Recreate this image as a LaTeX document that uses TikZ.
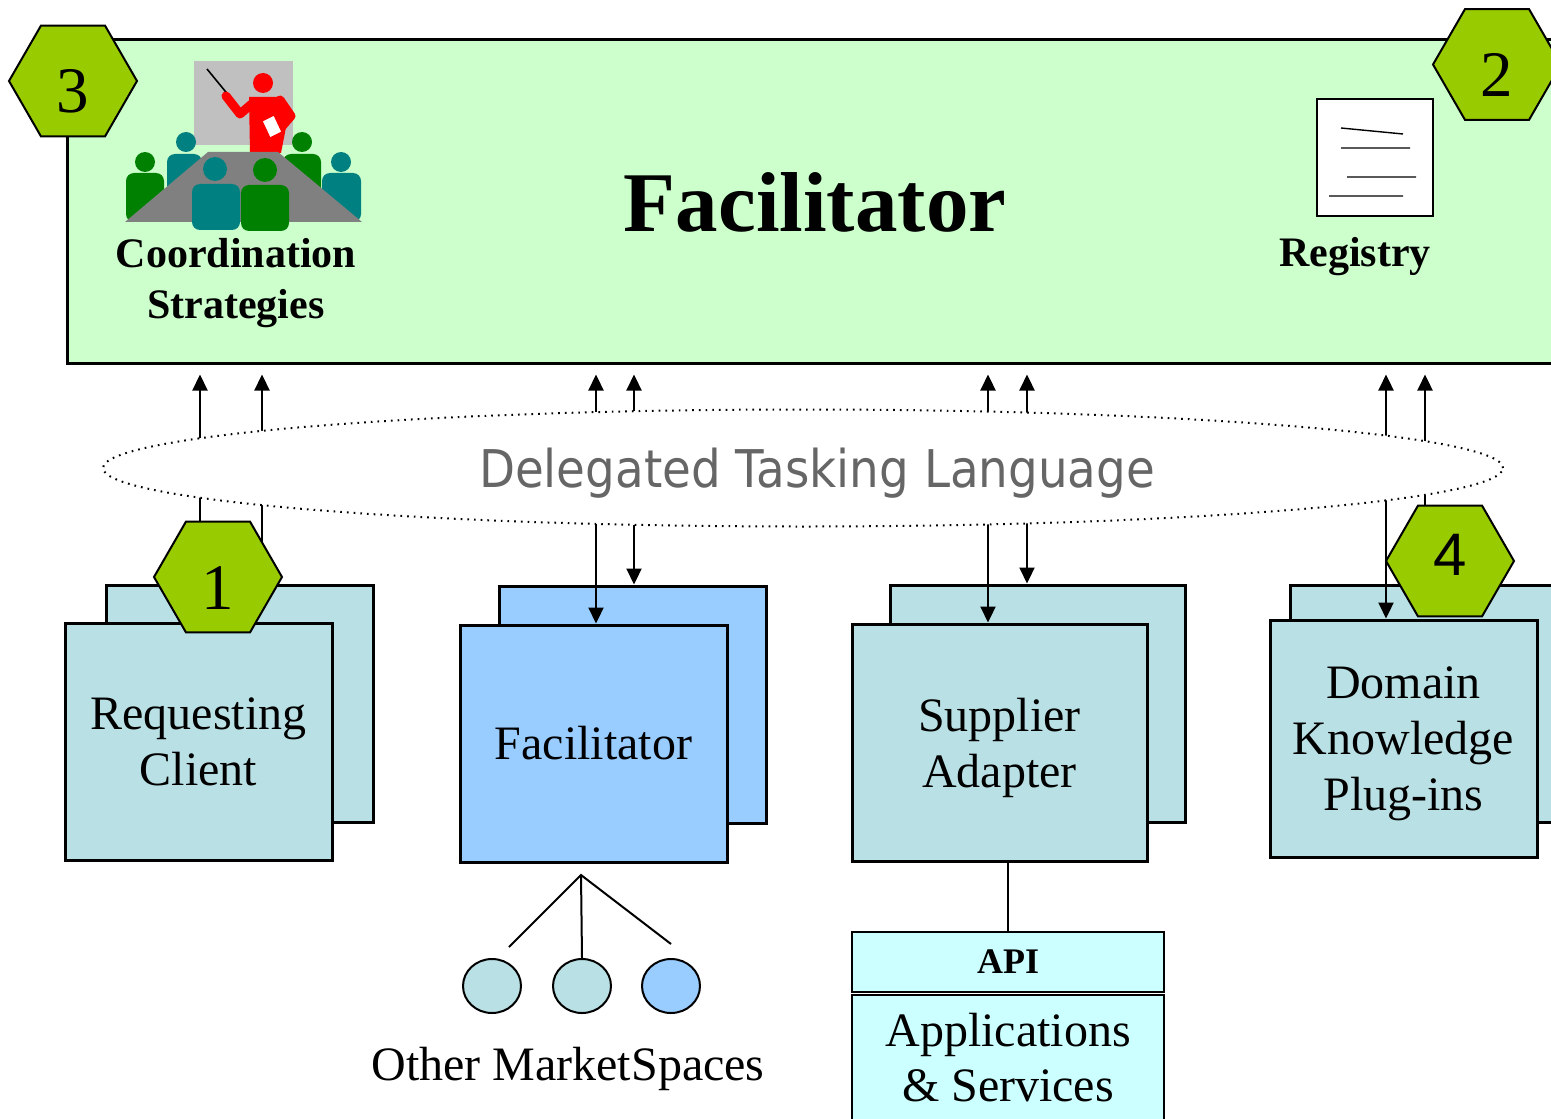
\documentclass[tikz,border=0pt]{standalone}
\usepackage{fontspec}
\setmainfont{Liberation Serif}
\newfontfamily\dtlfont{DejaVu Sans}
\newfontfamily\numfont{Liberation Sans}
\usepackage{graphicx}
\usetikzlibrary{shapes.geometric, arrows.meta}

\definecolor{mintbg}{RGB}{204,255,204}
\definecolor{hexgreen}{RGB}{153,204,0}
\definecolor{agentblue}{RGB}{185,224,228}
\definecolor{facblue}{RGB}{153,204,255}
\definecolor{apicyan}{RGB}{204,255,255}
\definecolor{dtlgray}{RGB}{102,102,102}
\definecolor{boardgray}{RGB}{192,192,192}
\definecolor{tablegray}{RGB}{128,128,128}
\definecolor{seatteal}{RGB}{0,128,128}
\definecolor{seatgreen}{RGB}{0,128,0}

\tikzset{
  agent/.style={draw, line width=1.5pt, fill=agentblue, minimum width=133.5pt, minimum height=118.5pt,
    inner sep=0pt, align=center, font=\fontsize{24pt}{28pt}\selectfont},
  hexa/.style={regular polygon, regular polygon sides=6, draw, line width=1pt, fill=hexgreen,
    minimum size=64pt, inner sep=0pt, text height=32pt, text depth=0pt, font=\fontsize{32.5pt}{36pt}\selectfont},
  taskflow/.style={line width=1.1pt, {Triangle[width=7.5pt,length=8pt]}-{Triangle[width=7.5pt,length=8pt]}, shorten >=5pt},
  boldlabel/.style={align=center, font=\fontsize{21pt}{25.5pt}\selectfont\bfseries},
  market/.style={ellipse, draw, line width=1pt, minimum width=29pt, minimum height=27pt, inner sep=0pt},
}

\begin{document}
\begin{tikzpicture}[x=0.5pt,y=0.5pt,yscale=-1,xscale=1]
\useasboundingbox (0,0) rectangle (1551,1118);

%Shape: Rectangle (top level facilitator)
\node[draw, line width=1.5pt, fill=mintbg, minimum width=749pt, minimum height=161.5pt, inner sep=0pt] (facil) at (816,201.5) {};

% Text Node
\node[font=\fontsize{42.5pt}{48pt}\selectfont\bfseries] (facilname) at (815,202) {Facilitator};
\node[boldlabel] (coordname) at (236,283) {Coordination\\Strategies};
\node[boldlabel] (regname) at (1355,257) {Registry};

%Meeting room
\fill[boardgray] (194,61) rectangle (293,145);
\draw[line width=0.8pt] (207,69) -- (230,97);
\fill[red] (263,83) circle (10);
\fill[red] (249,97) -- (281,97) -- (289,112) -- (281,153) -- (250,153) -- cycle;
\draw[red, line width=4.5pt, line join=round, line cap=round] (226,96) -- (240,114) -- (254,102);
\draw[red, line width=4.5pt, line join=round, line cap=round] (280,100) -- (291,116) -- (278,131);
\draw[red, line width=0.6pt, fill=white] (262,121) -- (274,115) -- (282,132) -- (270,138) -- cycle;
% people behind the table
\fill[seatgreen] (145,162) circle (10);
\fill[seatgreen, rounded corners=4pt] (126,222) -- (126,173) -- (164,173) -- (164,222) -- cycle;
\fill[seatteal] (186,142) circle (10);
\fill[seatteal, rounded corners=4pt] (167,222) -- (167,154) -- (202,154) -- (202,222) -- cycle;
\fill[seatgreen] (302,142) circle (10);
\fill[seatgreen, rounded corners=4pt] (283,222) -- (283,154) -- (321,154) -- (321,222) -- cycle;
\fill[seatteal] (341,162) circle (10);
\fill[seatteal, rounded corners=4pt] (322,222) -- (322,173) -- (361,173) -- (361,222) -- cycle;
% table
\fill[tablegray] (125,222) -- (362,222) -- (278,152) -- (208,152) -- cycle;
% people in front
\fill[seatteal] (215,169) circle (12);
\fill[seatteal, rounded corners=4pt] (192,230) -- (192,184) -- (240,184) -- (240,230) -- cycle;
\fill[seatgreen] (265,170) circle (12);
\fill[seatgreen, rounded corners=4pt] (241,231) -- (241,185) -- (289,185) -- (289,231) -- cycle;

%Registry sheet
\draw[line width=1pt, fill=white] (1317,99) rectangle (1433,216);
\draw[line width=0.7pt] (1341,128) -- (1403,134) (1341,148) -- (1410,148) (1347,177) -- (1416,177) (1329,196) -- (1403,196);

%Agent boxes (back copy first)
\node[agent] (rcb) at (240,703.5) {};
\node[agent, text depth=-4pt] (rc) at (198.5,742) {Requesting\\Client};
\node[agent, fill=facblue] (fcb) at (632.5,704.5) {};
\node[agent, fill=facblue] (fc) at (593.5,743.5) {Facilitator};
\node[agent, minimum width=147.5pt] (sab) at (1037.5,703.5) {};
\node[agent, text depth=0pt, minimum width=147.5pt] (sa) at (999.5,742.5) {Supplier\\Adapter};
\node[agent] (dkb) at (1423.5,704) {};
\node[agent, text depth=0pt] (dk) at (1403.5,738.5) {Domain\\Knowledge\\Plug-ins};

%Straight Lines (delegated tasks)
\foreach \xa/\xb/\fr/\bk in {200/262/rc/rcb, 596/634/fc/fcb, 988/1027/sa/sab, 1386/1425/dk/dkb}{
  \draw[taskflow] (\xa,0 |- \fr.north) -- (\xa,0 |- facil.south);
  \draw[taskflow] (\xb,0 |- \bk.north) -- (\xb,0 |- facil.south);
}

%Shape: Ellipse
\node[ellipse, draw, line width=1pt, dash pattern={on 0.84pt off 2.51pt}, fill=white,
  minimum width=700pt, minimum height=58.5pt] (dtl) at (803,468) {};
\node[font=\dtlfont\fontsize{26pt}{30pt}\selectfont, text=dtlgray] (dtlname) at (817,473)
  {\scalebox{0.9}[1]{Delegated Tasking Language}};

%Hexagons
\node[hexa] (h3) at (73,81) {3};
\node[hexa] (h2) at (1497,64.5) {2};
\node[hexa] (h1) at (218,577) {1};
\node[hexa, text height=14.5pt, font=\numfont\fontsize{30pt}{34pt}\selectfont] (h4) at (1450,561) {4};

%Other market spaces
\node[market, fill=agentblue] (ms1) at (492,986) {};
\node[market, fill=agentblue] (ms2) at (582,986) {};
\node[market, fill=facblue] (ms3) at (671,986) {};
\coordinate (hub) at (581,875);
\coordinate (fan1) at (509,947);
\coordinate (fan3) at (671,944);
\draw[line width=1pt] (fan1) -- (hub) -- (fan3);
\draw[line width=1pt] (hub) -- (ms2.north);
\node[font=\fontsize{24pt}{28pt}\selectfont] (msname) at (568,1069) {Other MarketSpaces};

%API and applications
\node[draw, line width=1.2pt, fill=apicyan, minimum width=156pt, minimum height=30pt, inner sep=0pt,
  font=\fontsize{18pt}{22pt}\selectfont\bfseries] (api) at (1008,962) {API};
\node[draw, line width=1.2pt, fill=apicyan, minimum width=156pt, minimum height=63pt, inner sep=0pt,
  align=center, font=\fontsize{24pt}{27.5pt}\selectfont] (apps) at (1008,1058) {Applications\\\& Services};
\draw[line width=1.2pt] (api.north) -- (api.north |- sa.south);

\end{tikzpicture}
\end{document}
